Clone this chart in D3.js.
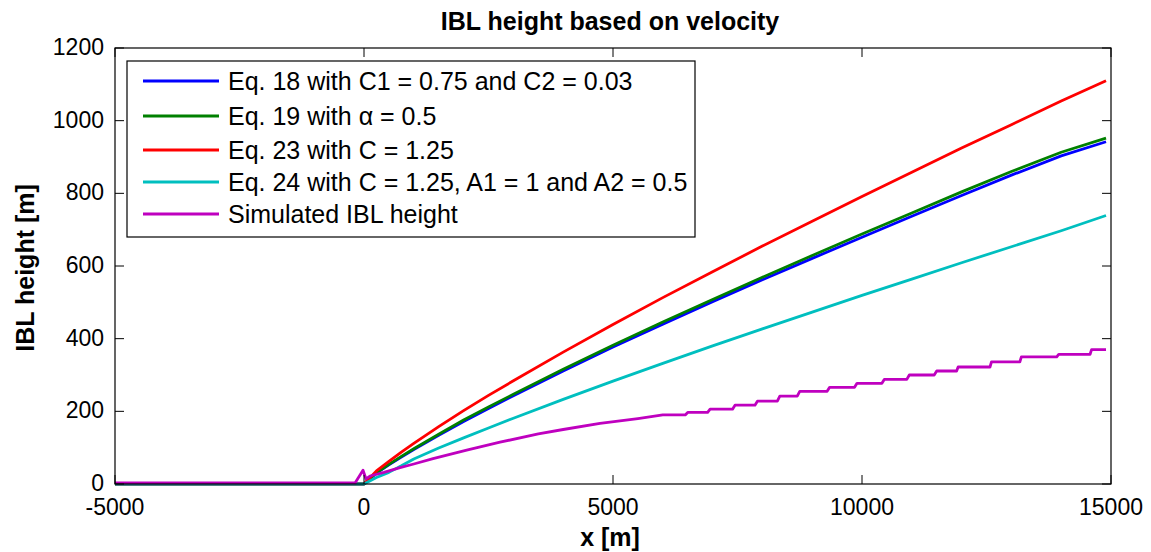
<!DOCTYPE html>
<html><head><meta charset="utf-8">
<script src="https://cdn.jsdelivr.net/npm/d3@7"></script>
<style>body{margin:0;background:#fff}text{font-family:"Liberation Sans",Arial,Helvetica,sans-serif}</style>
</head><body><svg id="c" width="1151" height="552"></svg>
<script>
const title = "IBL height based on velocity";
const xLabel = "x [m]";
const yLabel = "IBL height [m]";
const xTicks = [-5000, 0, 5000, 10000, 15000];
const yTicks = [0, 200, 400, 600, 800, 1000, 1200];
const seriesNames = ["Eq. 18 with C1 = 0.75 and C2 = 0.03", "Eq. 19 with \u03B1 = 0.5", "Eq. 23 with C = 1.25", "Eq. 24 with C = 1.25, A1 = 1 and A2 = 0.5", "Simulated IBL height"];
const seriesColors = ["#0000ff", "#008000", "#ff0000", "#00bfbf", "#bf00bf"];

const xEq = [-5000, -100, 0, 250, 500, 750, 1000, 1500, 2000, 2500, 3000, 4000, 5000, 6000, 7000, 8000, 9000, 10000, 11000, 12000, 13000, 14000, 14900];
const eq18 = [0, 0, 0, 30, 53, 74, 95, 134, 172, 208, 243, 311, 377, 440, 502, 562, 621, 679, 737, 794, 850, 903, 942];
const eq19 = [0, 0, 0, 31, 54, 76, 97, 137, 176, 212, 247, 316, 382, 446, 508, 569, 629, 688, 746, 804, 860, 913, 952];
const eq23 = [0, 0, 0, 36, 62, 88, 112, 158, 202, 244, 284, 363, 439, 513, 584, 655, 723, 791, 858, 925, 989, 1054, 1110];
const eq24 = [0, 0, 0, 18, 32, 50, 69, 99, 127, 154, 181, 233, 283, 332, 380, 427, 473, 519, 564, 609, 653, 697, 739];

const xSim = [-5000, -180, -20, 40, 120, 400, 723, 1000, 1386, 2062, 2731, 3500, 4000, 4739, 5500, 6000, 6450, 6500, 6900, 6950, 7400, 7450, 7850, 7900, 8300, 8350, 8700, 8750, 9300, 9350, 9850, 9900, 10400, 10450, 10900, 10950, 11450, 11500, 11900, 11930, 12570, 12600, 13170, 13200, 13910, 13950, 14580, 14610, 14900];
const sim = [3, 3, 38, 14, 22, 32, 45, 55, 70, 93, 115, 138, 150, 167, 180, 190, 190, 197, 197, 206, 206, 217, 217, 228, 228, 242, 242, 255, 255, 266, 266, 277, 277, 288, 288, 300, 300, 311, 311, 322, 322, 336, 336, 350, 350, 357, 357, 370, 370];

const svg = d3.select("#c");
const L = 115, R = 1111, T = 48, B = 484;
const x = d3.scaleLinear().domain([-5000, 15000]).range([L, R]);
const y = d3.scaleLinear().domain([0, 1200]).range([B, T]);

svg.append("defs").append("clipPath").attr("id","clip").append("rect")
  .attr("x", L).attr("y", T).attr("width", R-L).attr("height", B-T+2);

const data = [
  {xs: xEq, ys: eq18}, {xs: xEq, ys: eq19}, {xs: xEq, ys: eq23}, {xs: xEq, ys: eq24}, {xs: xSim, ys: sim}
];
const line = d3.line().x(d => x(d[0])).y(d => y(d[1]));
const g = svg.append("g").attr("clip-path","url(#clip)");
data.forEach((s, i) => {
  g.append("path").attr("d", line(s.xs.map((v, j) => [v, s.ys[j]])))
    .attr("fill","none").attr("stroke", seriesColors[i]).attr("stroke-width", 2.8)
    .attr("stroke-linejoin","round");
});

// box and ticks
svg.append("rect").attr("x", L).attr("y", T).attr("width", R-L).attr("height", B-T)
  .attr("fill","none").attr("stroke","#000").attr("stroke-width",1.2);
const ax = svg.append("g");
xTicks.forEach(t => {
  ax.append("line").attr("x1", x(t)).attr("x2", x(t)).attr("y1", B).attr("y2", B-9).attr("stroke","#000");
  ax.append("line").attr("x1", x(t)).attr("x2", x(t)).attr("y1", T).attr("y2", T+9).attr("stroke","#000");
  ax.append("text").attr("x", x(t)).attr("y", B+31).attr("text-anchor","middle").attr("font-size",23).text(t);
});
yTicks.forEach(t => {
  ax.append("line").attr("x1", L).attr("x2", L+9).attr("y1", y(t)).attr("y2", y(t)).attr("stroke","#000");
  ax.append("line").attr("x1", R).attr("x2", R-9).attr("y1", y(t)).attr("y2", y(t)).attr("stroke","#000");
  ax.append("text").attr("x", L-11).attr("y", y(t)).attr("dy","0.3em").attr("text-anchor","end").attr("font-size",23).text(t);
});

svg.append("text").attr("x", 610).attr("y", 30).attr("text-anchor","middle")
  .attr("font-size",25).attr("font-weight","bold").text(title);
svg.append("text").attr("x", 610).attr("y", 546).attr("text-anchor","middle")
  .attr("font-size",25).attr("font-weight","bold").text(xLabel);
svg.append("text").attr("transform","translate(34," + ((T+B)/2 + 2) + ") rotate(-90)")
  .attr("text-anchor","middle").attr("font-size",25).attr("font-weight","bold").text(yLabel);

// legend
const lg = svg.append("g");
lg.append("rect").attr("x",127).attr("y",61).attr("width",568).attr("height",176)
  .attr("fill","#fff").attr("stroke","#000").attr("stroke-width",1.2);
const rowsY = [81, 116, 150, 182, 214];
seriesNames.forEach((n, i) => {
  lg.append("line").attr("x1",143).attr("x2",219).attr("y1",rowsY[i]).attr("y2",rowsY[i])
    .attr("stroke", seriesColors[i]).attr("stroke-width",2.8);
  lg.append("text").attr("x",228).attr("y",rowsY[i]).attr("dy","0.36em").attr("font-size",25).text(n);
});
</script></body></html>
